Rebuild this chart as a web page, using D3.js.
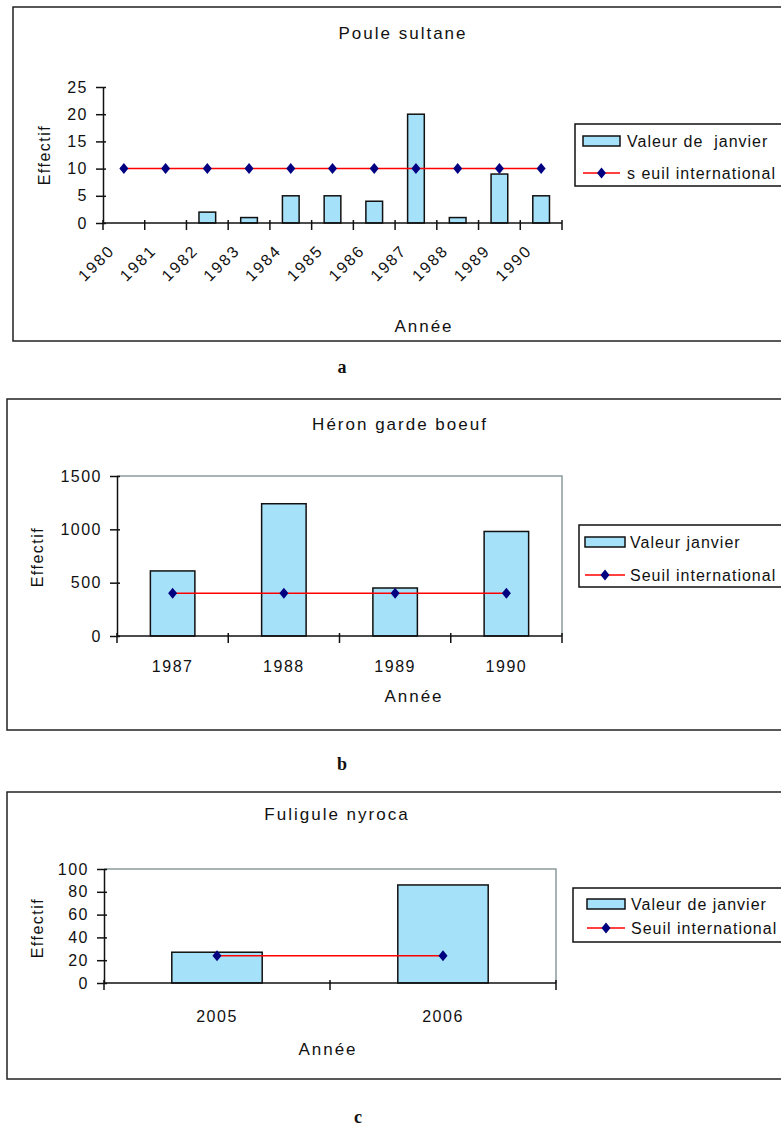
<!DOCTYPE html>
<html>
<head>
<meta charset="utf-8">
<script src="https://cdn.jsdelivr.net/npm/d3@7"></script>
<style>
  body { margin: 0; background: #fff; }
  svg text { font-family: "Liberation Sans", Arial, sans-serif; fill: #111; white-space: pre; }
</style>
</head>
<body>
<svg id="chart" width="781" height="1126"></svg>
<script>
// --- a : Poule sultane ---
const yearsA = ["1980", "1981", "1982", "1983", "1984", "1985", "1986", "1987", "1988", "1989", "1990"];
const janvierA = [0, 0, 2, 1, 5, 5, 4, 20, 1, 9, 5];
const seuilA = [10, 10, 10, 10, 10, 10, 10, 10, 10, 10, 10];
const ticksA = [0, 5, 10, 15, 20, 25];

// --- b : Héron garde boeuf ---
const yearsB = ["1987", "1988", "1989", "1990"];
const janvierB = [610, 1240, 450, 980];
const seuilB = [400, 400, 400, 400];
const ticksB = [0, 500, 1000, 1500];

// --- c : Fuligule nyroca ---
const yearsC = ["2005", "2006"];
const janvierC = [27, 86];
const seuilC = [24, 24];
const ticksC = [0, 20, 40, 60, 80, 100];

const svg = d3.select("#chart");
const barFill = "#a6e1fa";
const diamond = "M0,-5.5L4.5,0L0,5.5L-4.5,0Z";

function drawPanel(p) {
    const g = svg.append("g");

    // outer frame (runs off the right edge, like the scan)
    g.append("rect")
        .attr("x", p.frame[0]).attr("y", p.frame[1])
        .attr("width", 820).attr("height", p.frame[2])
        .attr("fill", "none").attr("stroke", "#222").attr("stroke-width", 1.5);

    const x = d3.scaleBand().domain(p.years).range([p.x0, p.x1])
        .paddingInner(0.6).paddingOuter(0.3);
    const y = d3.scaleLinear().domain([0, p.yMax]).range([p.yBot, p.yTop]);
    const cx = d => x(d) + x.bandwidth() / 2;

    // grey plot area border (top + right)
    if (p.plotBorder) {
        g.append("path")
            .attr("d", `M${p.x0},${y(p.yMax)}H${p.x1}V${y(0)}`)
            .attr("fill", "none").attr("stroke", "#8c9a9a").attr("stroke-width", 1.5);
    }

    // bars
    const rows = p.years.map((d, i) => ({ year: d, v: p.janvier[i], s: p.seuil[i] }));
    g.selectAll(".bar")
        .data(rows.filter(d => d.v > 0))
        .enter()
        .append("rect")
        .attr("class", "bar")
        .attr("x", d => x(d.year))
        .attr("y", d => y(d.v))
        .attr("width", x.bandwidth())
        .attr("height", d => y(0) - y(d.v))
        .attr("fill", barFill)
        .attr("stroke", "#111")
        .attr("stroke-width", 1.5);

    // y axis
    const yAxis = g.append("g")
        .attr("transform", `translate(${p.x0},0)`)
        .call(d3.axisLeft(y).tickValues(p.ticks).tickFormat(d3.format("d"))
            .tickSize(7).tickSizeOuter(0).tickPadding(8));
    yAxis.select(".domain").attr("stroke", "#111").attr("stroke-width", 1.5);
    yAxis.selectAll(".tick line").attr("x1", 3).attr("stroke", "#111").attr("stroke-width", 1.5);
    yAxis.selectAll(".tick text")
        .style("font-size", "16px").style("letter-spacing", "1.5px")
        .style("font-family", '"Liberation Sans", Arial, sans-serif').attr("fill", "#111");

    // x axis line + boundary ticks
    g.append("line")
        .attr("x1", p.x0).attr("x2", p.x1).attr("y1", y(0)).attr("y2", y(0))
        .attr("stroke", "#111").attr("stroke-width", 1.5);
    g.selectAll(".xtick")
        .data(d3.range(p.years.length + 1))
        .enter()
        .append("line")
        .attr("x1", i => p.x0 + i * x.step())
        .attr("x2", i => p.x0 + i * x.step())
        .attr("y1", y(0) - 3)
        .attr("y2", y(0) + 7)
        .attr("stroke", "#111").attr("stroke-width", 1.5);

    // x tick labels
    const xl = g.selectAll(".xlabel")
        .data(p.years)
        .enter()
        .append("text")
        .attr("class", "xlabel")
        .style("font-size", "16px")
        .text(d => d);
    if (p.rotate) {
        xl.attr("text-anchor", "middle")
            .attr("dominant-baseline", "central")
            .style("letter-spacing", "2px")
            .attr("transform", d => `translate(${cx(d) - 27.5},${y(0) + 40}) rotate(-45)`);
    } else {
        xl.attr("text-anchor", "middle")
            .style("letter-spacing", "1.5px")
            .attr("x", cx)
            .attr("y", y(0) + p.xLabelDy);
    }

    // seuil line + diamonds
    const line = d3.line().x(d => cx(d.year)).y(d => y(d.s));
    g.append("path")
        .datum(rows)
        .attr("d", line)
        .attr("fill", "none").attr("stroke", "#ff0000").attr("stroke-width", 1.5);
    g.selectAll(".mark")
        .data(rows)
        .enter()
        .append("path")
        .attr("d", diamond)
        .attr("transform", d => `translate(${cx(d.year)},${y(d.s)})`)
        .attr("fill", "#000080");

    // titles
    g.append("text")
        .attr("x", p.title[1]).attr("y", p.title[2])
        .attr("text-anchor", "middle")
        .style("font-size", "17px").style("letter-spacing", "2px")
        .text(p.title[0]);
    g.append("text")
        .attr("x", p.xTitle[0]).attr("y", p.xTitle[1])
        .attr("text-anchor", "middle")
        .style("font-size", "17px").style("letter-spacing", "2px")
        .text("Année");
    g.append("text")
        .attr("transform", `translate(${p.yTitle[0]},${p.yTitle[1]}) rotate(-90)`)
        .attr("text-anchor", "middle")
        .attr("dominant-baseline", "central")
        .style("font-size", "16px").style("letter-spacing", "1.5px")
        .text("Effectif");

    // legend
    const L = p.legend;
    g.append("rect")
        .attr("x", L.x).attr("y", L.y).attr("width", 300).attr("height", L.h)
        .attr("fill", "#fff").attr("stroke", "#111").attr("stroke-width", 1.5);
    g.append("rect")
        .attr("x", L.sx).attr("y", L.r1 - 5).attr("width", L.sw).attr("height", 10)
        .attr("fill", barFill).attr("stroke", "#111").attr("stroke-width", 1.5);
    g.append("line")
        .attr("x1", L.sx).attr("x2", L.sx + L.sw).attr("y1", L.r2).attr("y2", L.r2)
        .attr("stroke", "#ff0000").attr("stroke-width", 1.5);
    g.append("path")
        .attr("d", diamond)
        .attr("transform", `translate(${L.sx + L.sw / 2},${L.r2})`)
        .attr("fill", "#000080");
    [[L.names[0], L.r1], [L.names[1], L.r2]].forEach(([t, yy]) => {
        g.append("text")
            .attr("x", L.tx).attr("y", yy)
            .attr("dominant-baseline", "central")
            .style("font-size", "16px").style("letter-spacing", "1px")
            .text(t);
    });

    // panel letter
    g.append("text")
        .attr("x", p.letter[1]).attr("y", p.letter[2])
        .attr("text-anchor", "middle")
        .style("font-family", '"Liberation Serif", "Times New Roman", serif')
        .style("font-weight", "bold").style("font-size", "18px")
        .text(p.letter[0]);
}

drawPanel({
    years: yearsA, janvier: janvierA, seuil: seuilA, ticks: ticksA, yMax: 25,
    frame: [13, 7, 334], x0: 103, x1: 562, yTop: 87, yBot: 223,
    plotBorder: false, rotate: true,
    title: ["Poule sultane", 403, 39], xTitle: [424, 332], yTitle: [44, 155],
    legend: { x: 575, y: 124, h: 62, sx: 583, sw: 37, tx: 627, r1: 141, r2: 173,
              names: ["Valeur de  janvier", "s euil international"] },
    letter: ["a", 342, 373]
});

drawPanel({
    years: yearsB, janvier: janvierB, seuil: seuilB, ticks: ticksB, yMax: 1500,
    frame: [7, 399, 331], x0: 117, x1: 562, yTop: 476, yBot: 636,
    plotBorder: true, rotate: false, xLabelDy: 36,
    title: ["Héron garde boeuf", 400, 430], xTitle: [414, 702], yTitle: [37, 557],
    legend: { x: 579, y: 525, h: 62, sx: 585, sw: 40, tx: 630, r1: 542, r2: 575,
              names: ["Valeur janvier", "Seuil international"] },
    letter: ["b", 342, 770]
});

drawPanel({
    years: yearsC, janvier: janvierC, seuil: seuilC, ticks: ticksC, yMax: 100,
    frame: [7, 792, 287], x0: 104, x1: 556, yTop: 869, yBot: 983,
    plotBorder: true, rotate: false, xLabelDy: 39,
    title: ["Fuligule nyroca", 337, 820], xTitle: [328, 1055], yTitle: [37, 928],
    legend: { x: 573, y: 888, h: 54, sx: 587, sw: 38, tx: 631, r1: 904, r2: 928,
              names: ["Valeur de janvier", "Seuil international"] },
    letter: ["c", 358, 1123]
});
</script>
</body>
</html>
